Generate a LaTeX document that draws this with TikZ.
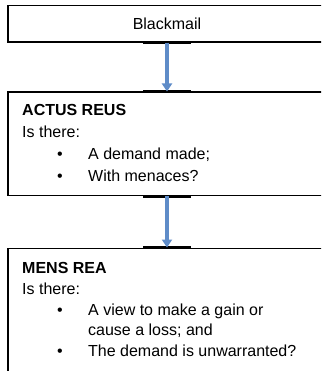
\documentclass[tikz,border=0pt]{standalone}
\usepackage{fontspec}
\setmainfont{Liberation Sans}
\usetikzlibrary{arrows.meta}
\definecolor{flowblue}{RGB}{95,140,200}
\tikzset{
  box/.style={draw=black,line width=1.3pt,rectangle,inner sep=0pt,
    minimum width=318pt,font=\fontsize{16}{19}\selectfont},
  txt/.style={anchor=base west,inner sep=0pt,font=\fontsize{16}{19}\selectfont},
  head/.style={txt,font=\fontsize{16}{19}\selectfont\bfseries},
  handle/.style={line width=2.4pt,black},
  flow/.style={flowblue,line width=3.6pt,-{Triangle[width=10pt,length=8pt]}}
}
\begin{document}
\begin{tikzpicture}[x=1pt,y=1pt]
        \useasboundingbox (0,0) rectangle (321,-371);
        \clip (0,0) rectangle (321,-371);
        % boxes
        \node [box,minimum height=36.5pt] (blackmail) at (167,-23.75) {Blackmail};
        \node [box,minimum height=103.5pt,anchor=north] (actus) at (167,-91.5) {};
        \node [box,minimum height=140pt,anchor=north] (mens) at (167,-247.5) {};
        % actus reus
        \node [head] (actushead) at (22,-116) {ACTUS REUS};
        \node [txt] (actusq) at (22,-138) {Is there:};
        \node [txt] (actusb1) at (57,-160) {\textbullet};
        \node [txt] (actusi1) at (88,-160) {A demand made;};
        \node [txt] (actusb2) at (57,-182) {\textbullet};
        \node [txt] (actusi2) at (88,-182) {With menaces?};
        % mens rea
        \node [head] (menshead) at (22,-273) {MENS REA};
        \node [txt] (mensq) at (22,-294) {Is there:};
        \node [txt] (mensb1) at (57,-315) {\textbullet};
        \node [txt] (mensi1) at (88,-315) {A view to make a gain or};
        \node [txt] (mensi1b) at (88,-335) {cause a loss; and};
        \node [txt] (mensb2) at (57,-356) {\textbullet};
        \node [txt] (mensi2) at (88,-356) {The demand is unwarranted?};
        % connectors
        \draw [handle] ([xshift=-24pt]blackmail.south) -- ([xshift=24pt]blackmail.south);
        \draw [handle] ([xshift=-24pt]actus.north) -- ([xshift=24pt]actus.north);
        \draw [handle] ([xshift=-24pt]actus.south) -- ([xshift=24pt]actus.south);
        \draw [handle] ([xshift=-24pt]mens.north) -- ([xshift=24pt]mens.north);
        \draw [flow] (blackmail.south) -- (actus.north);
        \draw [flow] (actus.south) -- (mens.north);
\end{tikzpicture}
\end{document}
